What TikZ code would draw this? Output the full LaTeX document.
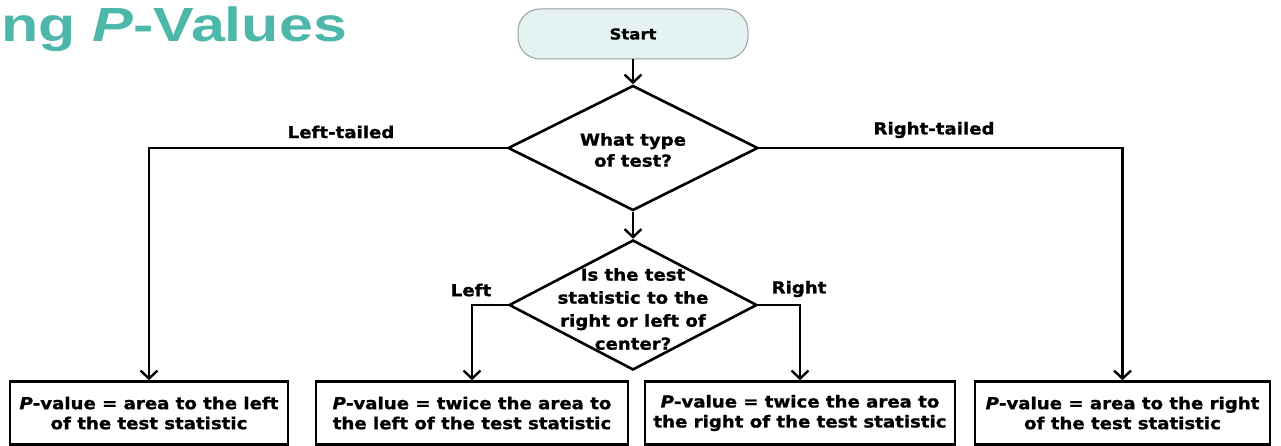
\documentclass[tikz,border=0pt]{standalone}
\usepackage{fontspec}
\setmainfont{DejaVu Sans}[FakeStretch=1.1, BoldFeatures={FakeBold=1.2}, BoldItalicFeatures={FakeBold=1.2}]
\newfontfamily\titlefont{Liberation Sans}
\usetikzlibrary{shapes.geometric,arrows.meta}
\definecolor{teal1}{RGB}{77,184,170}
\definecolor{startfill}{RGB}{228,243,241}
\definecolor{startline}{RGB}{150,160,160}
\begin{document}
\begin{tikzpicture}[x=1pt,y=-1pt, line width=2.6pt,
  font=\bfseries\fontsize{16.5}{20}\selectfont,
  arr/.style={-{Straight Barb[length=8pt,width=17pt,line width=2.4pt]}},
  dec/.style={draw, diamond, inner sep=0pt},
  res/.style={draw, rectangle, minimum height=63pt, align=center, inner sep=2pt},
  lbl/.style={inner sep=0pt}]
\useasboundingbox (0,0) rectangle (1281,446);
\node[anchor=base west, text=teal1, inner sep=0pt,
  font=\titlefont\bfseries\fontsize{48}{48}\selectfont] (title) at (0,42)
  {\scalebox{1.27}[1]{ng \textit{P}-Values}};
\node[draw=startline, fill=startfill, rounded corners=22pt, line width=1pt,
  minimum width=230pt, minimum height=50pt,
  font=\bfseries\fontsize{15}{17}\selectfont] (start) at (633,34) {Start};
\node[dec, minimum width=250pt, minimum height=125pt] (d1) at (633,148) {};
\node[align=center, lbl, font=\bfseries\fontsize{16.5}{21}\selectfont] (t1) at (633,150) {What type\\of test?};
\node[dec, minimum width=248pt, minimum height=130pt] (d2) at (633,305) {};
\node[align=center, lbl, font=\bfseries\fontsize{16.5}{23}\selectfont] (t2) at (633,309)
  {Is the test\\statistic to the\\right or left of\\center?};
\node[res, minimum width=278pt] (b1) at (149,413)
  {\textit{P}-value = area to the left\\of the test statistic};
\node[res, minimum width=312pt] (b2) at (472,413)
  {\textit{P}-value = twice the area to\\the left of the test statistic};
\node[res, minimum width=310pt] (b3) at (800,413)
  {\textit{P}-value = twice the area to\\the right of the test statistic};
\node[res, minimum width=295pt] (b4) at (1122.5,413)
  {\textit{P}-value = area to the right\\of the test statistic};
\node[lbl] (lt) at (341,132) {Left-tailed};
\node[lbl] (rt) at (934,130) {Right-tailed};
\node[lbl] (ll) at (471,290) {Left};
\node[lbl] (rr) at (799,289) {Right};
\draw[arr] (start.south) -- (d1.north);
\draw[arr] (d1.south) -- (d2.north);
\draw[arr] (d1.west) -| (b1.north);
\draw[arr] (d1.east) -| (b4.north);
\draw[arr] (d2.west) -| (b2.north);
\draw[arr] (d2.east) -| (b3.north);
\end{tikzpicture}
\end{document}
